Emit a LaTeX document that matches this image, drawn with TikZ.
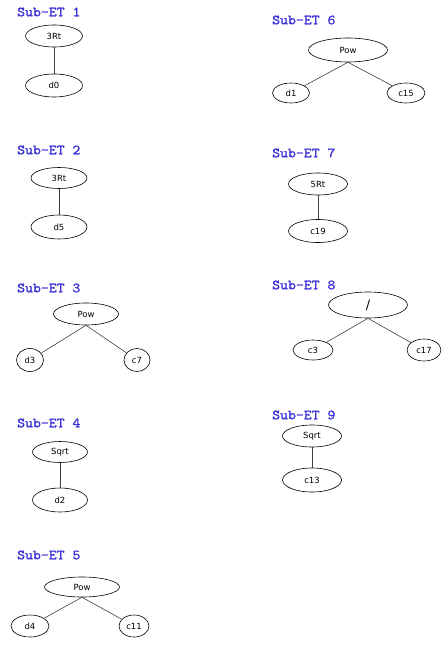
\documentclass[tikz,border=0pt]{standalone}
\usepackage{fontspec}
\setmainfont{DejaVu Sans}
\newfontfamily\titlefont[FakeStretch=1.1,FakeBold=1.6]{Latin Modern Mono}
\usetikzlibrary{shapes.geometric}
\definecolor{titleblue}{RGB}{60,50,215}
\begin{document}
\begin{tikzpicture}[x=1bp,y=-1bp,
  ttl/.style={anchor=west, inner sep=0pt, text=titleblue, font=\titlefont\fontsize{14}{14}\selectfont},
  ell/.style 2 args={draw=black, ellipse, minimum width=#1, minimum height=#2, inner sep=0pt, line width=0.6bp, font=\fontsize{8.5}{8.5}\selectfont},
  edge/.style={line width=0.6bp, draw=black!75}]
\useasboundingbox (0,0) rectangle (444,645);
\fill[white] (0,0) rectangle (444,645);

% Sub-ET 1
\node[ttl] (t1) at (17,12) {Sub-ET 1};
\node[ell={57bp}{22bp}] (a1) at (54,36) {3Rt};
\node[ell={57bp}{23bp}] (b1) at (54,85.5) {d0};
\draw[edge] (a1) -- (b1);

% Sub-ET 2
\node[ttl] (t2) at (17,150) {Sub-ET 2};
\node[ell={56bp}{21bp}] (a2) at (59,178) {3Rt};
\node[ell={56bp}{24bp}] (b2) at (59,227) {d5};
\draw[edge] (a2) -- (b2);

% Sub-ET 3
\node[ttl] (t3) at (17,288) {Sub-ET 3};
\node[ell={65bp}{22bp}] (a3) at (86,314) {Pow};
\node[ell={27bp}{23bp}] (b3) at (30,360) {d3};
\node[ell={26bp}{23bp}] (c3) at (137,360) {c7};
\draw[edge] (a3.south) -- (b3);
\draw[edge] (a3.south) -- (c3);

% Sub-ET 4
\node[ttl] (t4) at (17,423) {Sub-ET 4};
\node[ell={55bp}{21bp}] (a4) at (60,452) {Sqrt};
\node[ell={55bp}{24bp}] (b4) at (60,500) {d2};
\draw[edge] (a4) -- (b4);

% Sub-ET 5
\node[ttl] (t5) at (17,555) {Sub-ET 5};
\node[ell={75bp}{20bp}] (a5) at (82,587) {Pow};
\node[ell={38bp}{22bp}] (b5) at (30,626) {d4};
\node[ell={30bp}{22bp}] (c5) at (134,626) {c11};
\draw[edge] (a5.south) -- (b5);
\draw[edge] (a5.south) -- (c5);

% Sub-ET 6
\node[ttl] (t6) at (272,20) {Sub-ET 6};
\node[ell={79bp}{24bp}] (a6) at (348,50) {Pow};
\node[ell={37bp}{20bp}] (b6) at (291,93) {d1};
\node[ell={38bp}{20bp}] (c6) at (406,93) {c15};
\draw[edge] (a6.south) -- (b6);
\draw[edge] (a6.south) -- (c6);

% Sub-ET 7
\node[ttl] (t7) at (272,153) {Sub-ET 7};
\node[ell={59bp}{22bp}] (a7) at (318,184) {5Rt};
\node[ell={59bp}{23bp}] (b7) at (318,231) {c19};
\draw[edge] (a7) -- (b7);

% Sub-ET 8
\node[ttl] (t8) at (272,285) {Sub-ET 8};
\node[ell={79bp}{26bp}, font=\fontsize{13}{13}\selectfont] (a8) at (368,305) {/};
\node[ell={40bp}{20bp}] (b8) at (313,350) {c3};
\node[ell={34bp}{22bp}] (c8) at (424,350) {c17};
\draw[edge] (a8.south) -- (b8);
\draw[edge] (a8.south) -- (c8);

% Sub-ET 9
\node[ttl] (t9) at (272,415) {Sub-ET 9};
\node[ell={59bp}{22bp}] (a9) at (312,436) {Sqrt};
\node[ell={59bp}{24bp}] (b9) at (312,480) {c13};
\draw[edge] (a9) -- (b9);
\end{tikzpicture}
\end{document}
